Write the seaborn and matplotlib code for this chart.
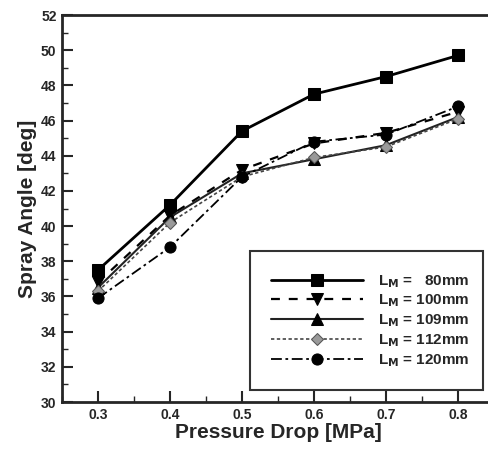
import matplotlib
matplotlib.use("Agg")
import matplotlib.pyplot as plt
from matplotlib.ticker import MultipleLocator
import seaborn as sns
import pandas as pd

pressure = [0.3, 0.4, 0.5, 0.6, 0.7, 0.8]
angle_80 = [37.5, 41.2, 45.4, 47.5, 48.5, 49.7]
angle_100 = [36.8, 40.6, 43.2, 44.7, 45.3, 46.5]
angle_109 = [36.5, 40.5, 43.0, 43.8, 44.6, 46.2]
angle_112 = [36.3, 40.2, 42.8, 43.9, 44.5, 46.1]
angle_120 = [35.9, 38.8, 42.8, 44.8, 45.2, 46.8]
labels = [
    r"L$_{\mathbf{M}}$ =   80mm",
    r"L$_{\mathbf{M}}$ = 100mm",
    r"L$_{\mathbf{M}}$ = 109mm",
    r"L$_{\mathbf{M}}$ = 112mm",
    r"L$_{\mathbf{M}}$ = 120mm",
]

sns.set_style("ticks")
plt.rcParams["font.family"] = ["Liberation Sans", "DejaVu Sans"]
plt.rcParams["font.weight"] = "bold"
plt.rcParams["mathtext.default"] = "bf"

fig = plt.figure(figsize=(4.89, 4.49), dpi=100)
ax = fig.add_axes([62 / 489, 1 - 402 / 449, (494 - 62) / 489, (402 - 15) / 449])

series = [angle_80, angle_100, angle_109, angle_112, angle_120]
styles = [
    dict(marker="s", linestyle="-", lw=2.0, ms=8, mfc="black", mec="black", color="black"),
    dict(marker="v", linestyle=(0, (4, 4)), lw=1.6, ms=8, mfc="black", mec="black", color="black"),
    dict(marker="^", linestyle="-", lw=1.5, ms=8, mfc="black", mec="black", color="#222222"),
    dict(marker="D", linestyle=(0, (2, 1.5)), lw=1.2, ms=6.5, mfc="#9a9a9a", mec="#555555", color="#444444"),
    dict(marker="o", linestyle=(0, (6, 2, 1.5, 2)), lw=1.3, ms=8, mfc="black", mec="black", color="black"),
]

for vals, lab, st in zip(series, labels, styles):
    df = pd.DataFrame({"pressure": pressure, "angle": vals})
    sns.lineplot(data=df, x="pressure", y="angle", label=lab, ax=ax, **st)

ax.set_xlim(0.25, 0.85)
ax.set_ylim(30, 52)
ax.xaxis.set_major_locator(MultipleLocator(0.1))
ax.xaxis.set_minor_locator(MultipleLocator(0.05))
ax.yaxis.set_major_locator(MultipleLocator(2))
ax.yaxis.set_minor_locator(MultipleLocator(1))
ax.tick_params(which="major", direction="in", length=8, width=1.5, labelsize=10, pad=4)
ax.tick_params(which="minor", direction="in", length=4, width=1)
ax.xaxis.set_major_formatter(matplotlib.ticker.FormatStrFormatter("%.1f"))
for sp in ax.spines.values():
    sp.set_linewidth(2)

ax.set_xlabel("Pressure Drop [MPa]", fontsize=15, fontweight="bold", labelpad=1)
ax.set_ylabel("Spray Angle [deg]", fontsize=15, fontweight="bold", labelpad=3)

leg = ax.legend(
    loc="lower left",
    bbox_to_anchor=((250 - 62) / (494 - 62), (402 - 390) / 387, (483 - 250) / (494 - 62), (390 - 246) / 387),
    mode="expand",
    handlelength=6,
    numpoints=1,
    fontsize=11,
    frameon=True,
    fancybox=False,
    borderpad=1.4,
    labelspacing=0.2,
    handletextpad=1.0,
    borderaxespad=0,
)
leg.get_frame().set_edgecolor("black")
leg.get_frame().set_linewidth(1.5)

fig.savefig("out.png", dpi=100)
